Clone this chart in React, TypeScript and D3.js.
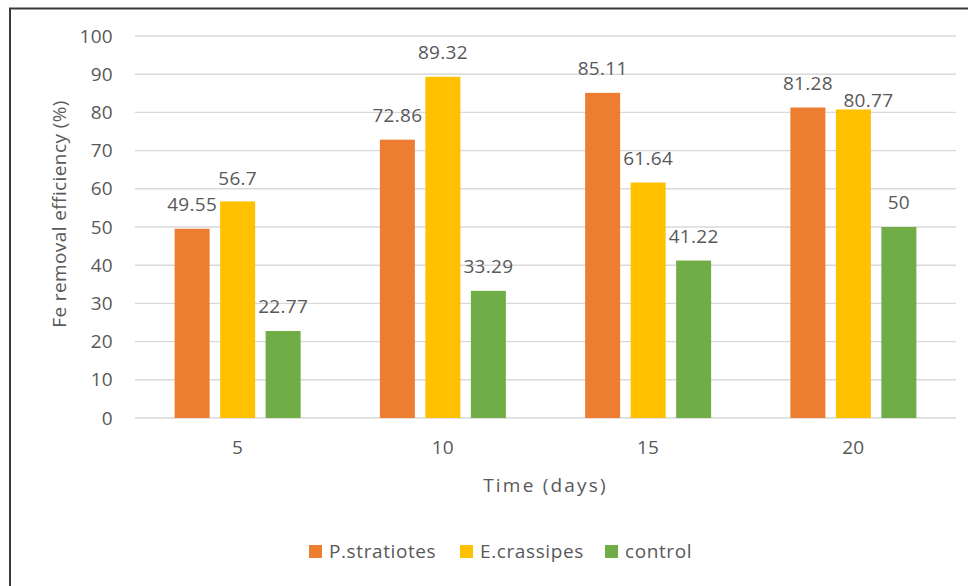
import React from "react";
import * as d3 from "d3";

const categories = ["5", "10", "15", "20"];
const seriesNames = ["P.stratiotes", "E.crassipes", "control"];
const pStratiotes = [49.55, 72.86, 85.11, 81.28];
const eCrassipes = [56.7, 89.32, 61.64, 80.77];
const control = [22.77, 33.29, 41.22, 50];
const seriesColors = ["#ED7D31", "#FFC000", "#70AD47"];
const yTicks = [0, 10, 20, 30, 40, 50, 60, 70, 80, 90, 100];
const xTitle = "Time (days)";
const yTitle = "Fe  removal efficiency (%)";

// manual label nudges (dx, dy) like Excel's moved labels, [series][category]
const labelNudge = [
  [[0, 0], [0, 0], [0, 0], [0, 0]],
  [[0, 2], [0, 0], [0, 0], [15, 16]],
  [[0, 0], [0, 0], [0, 0], [0, 0]],
];

const W = 968;
const H = 586;
const FONT = "'Open Sans', 'Noto Sans', sans-serif";
const TEXT = "#595959";
const FS = 19;

export default function App() {
  const seriesValues = [pStratiotes, eCrassipes, control];
  const x0 = d3.scaleBand<string>().domain(categories).range([135, 956]).padding(0);
  const x1 = d3
    .scaleBand<string>()
    .domain(seriesNames)
    .range([-63, 63])
    .paddingInner(0.2308)
    .paddingOuter(0);
  const y = d3.scaleLinear().domain([0, 100]).range([418, 36]);

  const plotLeft = 135;
  const plotRight = 956;
  const cx = (c: string) => (x0(c) as number) + x0.bandwidth() / 2;

  return (
    <svg
      width={W}
      height={H}
      style={{ position: "absolute", left: 0, top: 0, display: "block", background: "#fff" }}
      fontFamily={FONT}
    >
      <rect x={0} y={0} width={W} height={H} fill="#fff" />
      <rect x={10} y={8.5} width={W + 20} height={H + 20} fill="none" stroke="#3a3a3a" strokeWidth={2} />
      {/* gridlines */}
      {yTicks.map((t) => (
        <line
          key={"g" + t}
          x1={plotLeft}
          x2={plotRight}
          y1={y(t)}
          y2={y(t)}
          stroke="#d9d9d9"
          strokeWidth={1.4}
        />
      ))}
      {/* y tick labels */}
      {yTicks.map((t) => (
        <text
          key={"yt" + t}
          x={113}
          y={y(t)}
          dy="0.35em"
          textAnchor="end"
          fontSize={FS}
          letterSpacing={0.3}
          fill={TEXT}
        >
          {t}
        </text>
      ))}
      {/* bars */}
      {seriesNames.map((s, si) =>
        categories.map((c, ci) => {
          const v = seriesValues[si][ci];
          const bx = cx(c) + (x1(s) as number);
          return (
            <rect
              key={s + c}
              x={bx}
              y={y(v)}
              width={x1.bandwidth()}
              height={y(0) - y(v)}
              fill={seriesColors[si]}
            />
          );
        })
      )}
      {/* value labels */}
      {seriesNames.map((s, si) =>
        categories.map((c, ci) => {
          const v = seriesValues[si][ci];
          const bx = cx(c) + (x1(s) as number) + x1.bandwidth() / 2;
          const [dx, dy] = labelNudge[si][ci];
          return (
            <text
              key={"l" + s + c}
              x={bx + dx}
              y={y(v) - 18 + dy}
              textAnchor="middle"
              fontSize={FS}
              letterSpacing={0.3}
              fill={TEXT}
            >
              {String(v)}
            </text>
          );
        })
      )}
      {/* x tick labels */}
      {categories.map((c) => (
        <text key={"xt" + c} x={cx(c)} y={454} textAnchor="middle" fontSize={FS} letterSpacing={0.3} fill={TEXT}>
          {c}
        </text>
      ))}
      {/* axis titles */}
      <text
        x={(plotLeft + plotRight) / 2}
        y={492}
        textAnchor="middle"
        fontSize={FS}
        letterSpacing={2.2}
        fill={TEXT}
      >
        {xTitle}
      </text>
      <text
        transform={`translate(66, 214) rotate(-90)`}
        textAnchor="middle"
        fontSize={FS}
        letterSpacing={0.4}
        fill={TEXT}
      >
        {yTitle}
      </text>
      {/* legend */}
      {seriesNames.map((s, si) => {
        const lx = [309, 460, 605][si];
        return (
          <g key={"lg" + s}>
            <rect x={lx} y={545} width={13} height={13} fill={seriesColors[si]} />
            <text x={lx + 20} y={558} fontSize={FS} letterSpacing={0.6} fill={TEXT}>
              {s}
            </text>
          </g>
        );
      })}
    </svg>
  );
}
